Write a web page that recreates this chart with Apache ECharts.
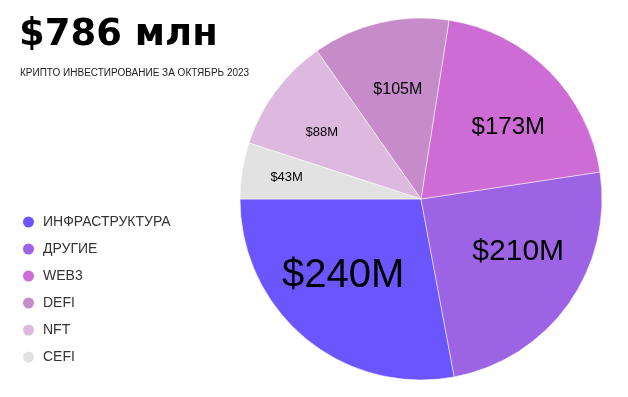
<!DOCTYPE html>
<html>
<head>
<meta charset="utf-8">
<script src="https://cdn.jsdelivr.net/npm/echarts@6/dist/echarts.min.js"></script>
<style>
html,body{margin:0;padding:0;background:#fff;}
#chart{width:628px;height:397px;}
</style>
</head>
<body>
<div id="chart"></div>
<script>
const categories = ['ИНФРАСТРУКТУРА', 'ДРУГИЕ', 'WEB3', 'DEFI', 'NFT', 'CEFI'];
const values = [240, 210, 173, 105, 88, 43];
const titleText = '$786 млн';
const subtitleText = 'КРИПТО ИНВЕСТИРОВАНИЕ ЗА ОКТЯБРЬ 2023';

const colors = ['#6B56FE', '#9D63E5', '#CE6CD6', '#C68CC9', '#DDB9E0', '#E2E2E2'];
const labelSizes = [40, 30, 24, 16, 13, 13];
const labelOffsets = [[-18, 5], [21, -1], [21, -6], [-2, -18], [-24, -11], [-42, -7]];

const chart = echarts.init(document.getElementById('chart'), null, {renderer: 'canvas'});
chart.setOption({
  backgroundColor: '#ffffff',
  animation: false,
  title: [{
    text: titleText,
    left: 19,
    top: 17,
    padding: 0,
    textStyle: {fontFamily: 'DejaVu Sans', fontWeight: 700, fontSize: 37, color: '#000'}
  }, {
    text: subtitleText,
    left: 20,
    top: 68,
    padding: 0,
    textStyle: {fontFamily: 'Liberation Sans', fontWeight: 400, fontSize: 10, color: '#222'}
  }],
  legend: {
    orient: 'vertical',
    left: 23,
    top: 215,
    padding: 0,
    icon: 'circle',
    itemWidth: 11,
    itemHeight: 11,
    itemGap: 13,
    itemStyle: {borderWidth: 0},
    textStyle: {fontFamily: 'Liberation Sans', fontSize: 14, color: '#333', padding: [0, 0, 0, 4]},
    data: categories
  },
  series: [{
    type: 'pie',
    center: [421, 199],
    radius: 181,
    startAngle: 180,
    clockwise: false,
    silent: true,
    itemStyle: {borderColor: '#fff', borderWidth: 0.5},
    label: {
      show: true,
      position: 'inside',
      fontFamily: 'Liberation Sans',
      color: '#000',
      formatter: p => '$' + p.value + 'M'
    },
    labelLine: {show: false},
    data: categories.map((name, i) => ({
      name: name,
      value: values[i],
      itemStyle: {color: colors[i]},
      label: {fontSize: labelSizes[i], offset: labelOffsets[i]}
    }))
  }]
});
</script>
</body>
</html>
